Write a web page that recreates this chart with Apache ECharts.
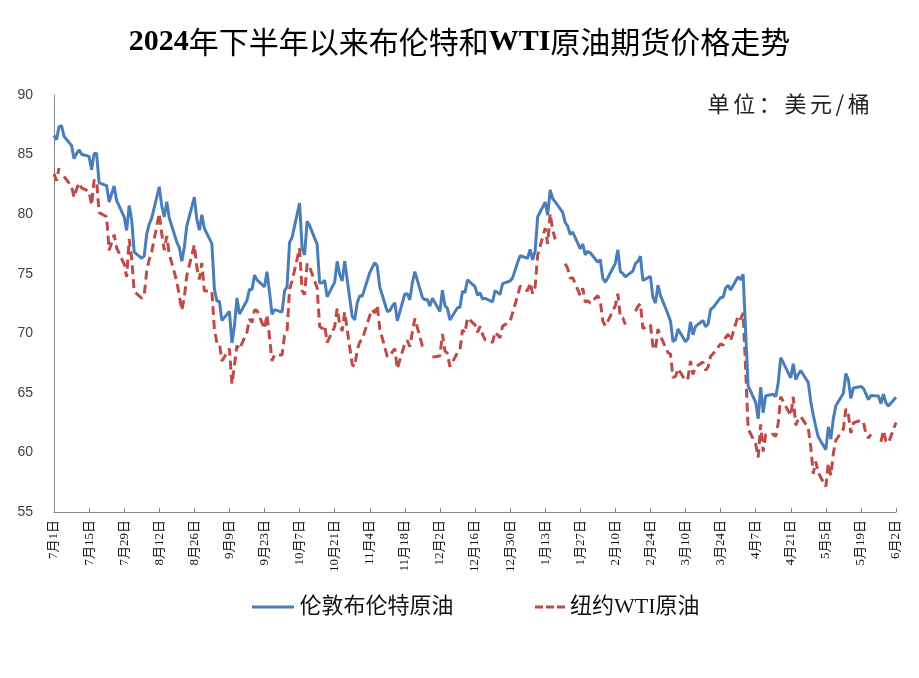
<!DOCTYPE html>
<html>
<head>
<meta charset="utf-8">
<script src="https://cdn.jsdelivr.net/npm/echarts@6/dist/echarts.min.js"></script>
<style>
html,body{margin:0;padding:0;background:#fff;}
#chart{width:919px;height:678px;}
</style>
</head>
<body>
<div id="chart"></div>
<script>
// ---- data ----
const dates = [
'2024-07-01','2024-07-02','2024-07-03','2024-07-04','2024-07-05','2024-07-08','2024-07-09','2024-07-10','2024-07-11','2024-07-12',
'2024-07-15','2024-07-16','2024-07-17','2024-07-18','2024-07-19','2024-07-22','2024-07-23','2024-07-24','2024-07-25','2024-07-26',
'2024-07-29','2024-07-30','2024-07-31','2024-08-01','2024-08-02','2024-08-05','2024-08-06','2024-08-07','2024-08-08','2024-08-09',
'2024-08-12','2024-08-13','2024-08-14','2024-08-15','2024-08-16','2024-08-19','2024-08-20','2024-08-21','2024-08-22','2024-08-23',
'2024-08-26','2024-08-27','2024-08-28','2024-08-29','2024-08-30','2024-09-02','2024-09-03','2024-09-04','2024-09-05','2024-09-06',
'2024-09-09','2024-09-10','2024-09-11','2024-09-12','2024-09-13','2024-09-16','2024-09-17','2024-09-18','2024-09-19','2024-09-20',
'2024-09-23','2024-09-24','2024-09-25','2024-09-26','2024-09-27','2024-09-30','2024-10-01','2024-10-02','2024-10-03','2024-10-04',
'2024-10-07','2024-10-08','2024-10-09','2024-10-10','2024-10-11','2024-10-14','2024-10-15','2024-10-16','2024-10-17','2024-10-18',
'2024-10-21','2024-10-22','2024-10-23','2024-10-24','2024-10-25','2024-10-28','2024-10-29','2024-10-30','2024-10-31','2024-11-01',
'2024-11-04','2024-11-05','2024-11-06','2024-11-07','2024-11-08','2024-11-11','2024-11-12','2024-11-13','2024-11-14','2024-11-15',
'2024-11-18','2024-11-19','2024-11-20','2024-11-21','2024-11-22','2024-11-25','2024-11-26','2024-11-27','2024-11-28','2024-11-29',
'2024-12-02','2024-12-03','2024-12-04','2024-12-05','2024-12-06','2024-12-09','2024-12-10','2024-12-11','2024-12-12','2024-12-13',
'2024-12-16','2024-12-17','2024-12-18','2024-12-19','2024-12-20','2024-12-23','2024-12-24','2024-12-26','2024-12-27','2024-12-30',
'2024-12-31','2025-01-02','2025-01-03','2025-01-06','2025-01-07','2025-01-08','2025-01-09','2025-01-10','2025-01-13','2025-01-14',
'2025-01-15','2025-01-16','2025-01-17','2025-01-20','2025-01-21','2025-01-22','2025-01-23','2025-01-24','2025-01-27','2025-01-28',
'2025-01-29','2025-01-30','2025-01-31','2025-02-03','2025-02-04','2025-02-05','2025-02-06','2025-02-07','2025-02-10','2025-02-11',
'2025-02-12','2025-02-13','2025-02-14','2025-02-17','2025-02-18','2025-02-19','2025-02-20','2025-02-21','2025-02-24','2025-02-25',
'2025-02-26','2025-02-27','2025-02-28','2025-03-03','2025-03-04','2025-03-05','2025-03-06','2025-03-07','2025-03-10','2025-03-11',
'2025-03-12','2025-03-13','2025-03-14','2025-03-17','2025-03-18','2025-03-19','2025-03-20','2025-03-21','2025-03-24','2025-03-25',
'2025-03-26','2025-03-27','2025-03-28','2025-03-31','2025-04-01','2025-04-02','2025-04-03','2025-04-04','2025-04-07','2025-04-08',
'2025-04-09','2025-04-10','2025-04-11','2025-04-14','2025-04-15','2025-04-16','2025-04-17','2025-04-21','2025-04-22','2025-04-23',
'2025-04-24','2025-04-25','2025-04-28','2025-04-29','2025-04-30','2025-05-01','2025-05-02','2025-05-05','2025-05-06','2025-05-07',
'2025-05-08','2025-05-09','2025-05-12','2025-05-13','2025-05-14','2025-05-15','2025-05-16','2025-05-19','2025-05-20','2025-05-21',
'2025-05-22','2025-05-23','2025-05-26','2025-05-27','2025-05-28','2025-05-29','2025-05-30','2025-06-02'
];
const brent = [
86.60,86.24,87.34,87.43,86.54,85.75,84.66,85.08,85.40,85.03,
84.85,83.73,85.08,85.11,82.63,82.40,81.01,81.71,82.37,81.13,
79.78,78.63,80.72,79.52,76.81,76.30,76.48,78.33,79.16,79.66,
82.30,80.69,79.76,81.04,79.68,77.66,77.20,76.05,77.22,79.02,
81.43,79.55,78.65,79.94,78.80,77.52,73.75,72.70,72.69,71.06,
71.84,69.19,70.61,72.97,71.61,72.75,73.70,73.65,74.88,74.49,
73.90,75.17,73.46,71.60,71.98,71.77,73.56,73.90,77.62,78.05,
80.93,77.18,76.58,79.40,79.04,77.46,74.25,74.22,74.45,73.06,
74.29,76.04,74.96,74.38,76.05,71.42,71.12,72.55,73.16,73.10,
75.08,75.53,75.92,75.63,73.87,71.83,71.89,72.28,72.56,71.04,
73.30,73.31,72.81,74.23,75.17,73.01,72.81,72.83,72.28,72.94,
71.83,73.62,72.31,72.09,71.12,72.14,72.19,73.52,73.41,74.49,
73.91,73.19,73.39,72.88,72.94,72.63,73.58,73.26,74.17,74.39,
74.64,75.93,76.51,76.30,77.05,76.16,76.92,79.76,81.01,79.92,
82.03,81.29,81.04,80.15,79.29,79.00,78.29,78.50,77.08,77.49,
76.58,76.87,76.76,75.96,76.20,74.61,74.29,74.66,75.87,77.00,
75.18,75.02,74.74,75.22,75.84,76.04,76.48,74.43,74.78,73.02,
72.53,74.04,73.18,71.62,71.04,69.30,69.46,70.36,69.28,69.56,
70.95,69.88,70.58,71.07,70.56,70.78,72.00,72.16,73.00,73.02,
73.79,74.03,73.63,74.74,74.49,74.95,70.14,65.58,64.21,62.82,
65.48,63.33,64.76,64.88,64.67,65.85,67.96,66.26,67.44,66.12,
66.55,66.87,65.86,64.25,63.12,62.13,61.29,60.23,62.15,61.12,
62.84,63.91,64.96,66.63,66.09,64.53,65.41,65.54,65.38,64.91,
64.44,64.78,64.74,64.09,64.90,64.15,63.90,64.63
];
const wti = [
83.38,82.81,83.88,null,83.16,82.33,81.41,82.10,82.62,82.21,
81.91,80.76,82.85,82.82,80.13,79.78,76.96,77.59,78.28,77.16,
75.81,74.73,77.91,76.31,73.52,72.94,73.20,75.23,76.19,76.84,
80.06,78.35,76.98,78.16,76.65,74.37,73.17,71.93,73.01,74.83,
77.42,75.53,74.52,75.91,73.55,73.55,70.34,69.20,69.15,67.67,
68.71,65.75,67.31,68.97,68.65,70.09,71.19,70.91,71.95,71.92,
70.37,71.56,69.69,67.67,68.18,68.17,69.83,70.10,73.71,74.38,
77.14,73.57,73.24,75.85,75.56,73.83,70.58,70.39,70.67,69.22,
70.56,72.09,70.77,70.19,71.78,67.38,67.21,68.61,69.26,69.49,
71.47,71.99,71.69,72.36,70.38,68.04,68.12,68.43,68.70,67.02,
69.16,69.39,68.87,70.10,71.24,68.94,68.77,68.72,null,68.00,
68.10,69.94,68.54,68.30,67.20,68.37,68.59,70.29,70.02,71.29,
70.71,70.08,70.58,69.91,69.46,69.24,70.10,69.62,70.60,70.99,
71.72,73.13,73.96,73.56,74.25,73.32,73.92,76.57,78.82,77.50,
80.04,78.68,77.88,null,75.83,75.44,74.62,74.66,73.17,73.77,
72.62,72.73,72.53,73.16,72.70,71.03,70.61,71.00,72.32,73.32,
71.37,71.29,70.74,null,71.85,72.25,72.48,70.40,70.70,68.93,
68.62,70.35,69.76,68.37,68.26,66.31,66.36,67.04,66.03,66.25,
67.68,66.55,67.18,67.58,66.90,67.16,68.07,68.28,69.11,69.00,
69.65,69.92,69.36,71.48,71.20,71.71,66.95,61.99,60.70,59.58,
62.35,60.07,61.50,61.53,61.33,62.47,64.68,63.08,64.67,62.27,
62.79,63.02,62.05,60.42,58.21,59.24,58.29,57.13,59.09,58.07,
59.91,61.02,61.95,63.67,63.15,61.62,62.49,62.69,62.56,61.57,
61.20,61.53,null,60.89,61.84,60.94,60.79,62.52
];
const xTickLabels = ['7月1日','7月15日','7月29日','8月12日','8月26日','9月9日','9月23日','10月7日','10月21日','11月4日',
'11月18日','12月2日','12月16日','12月30日','1月13日','1月27日','2月10日','2月24日','3月10日','3月24日',
'4月7日','4月21日','5月5日','5月19日','6月2日'];
const yTicks = [55, 60, 65, 70, 75, 80, 85, 90];
const seriesNames = ['伦敦布伦特原油', '纽约WTI原油'];
const unitText = '单位：美元/桶';

// ---- build ----
const startUTC = Date.UTC(2024, 6, 1);
function dayOffset(s) {
  const p = s.split('-').map(Number);
  return (Date.UTC(p[0], p[1] - 1, p[2]) - startUTC) / 86400000;
}
const xs = dates.map(dayOffset);
const brentData = xs.map((x, i) => [x, brent[i] == null ? '-' : brent[i]]);
const wtiData = xs.map((x, i) => [x, wti[i] == null ? '-' : wti[i]]);

const BLUE = '#4A7EBB';
const RED = '#BE4B48';
const SERIF_CJK = "'Liberation Serif','Times New Roman','Noto Sans CJK SC',serif";
const unitRich = unitText.split('').map(c => '{c|' + c + '}').join('');

const legendText = {fontFamily: SERIF_CJK, fontSize: 22, color: '#111'};

const chart = echarts.init(document.getElementById('chart'), null, {renderer: 'canvas'});
chart.setOption({
  backgroundColor: '#ffffff',
  animation: false,
  title: [{
    text: '{a|2024}{b|年下半年以来布伦特和}{a|WTI}{b|原油期货价格走势}',
    left: 'center',
    top: 22,
    textStyle: {
      rich: {
        a: {fontFamily: "'Liberation Serif','Times New Roman',serif", fontWeight: 'bold', fontSize: 30, color: '#000'},
        b: {fontFamily: "'Noto Sans CJK SC'", fontWeight: 'normal', fontSize: 30, color: '#000'}
      }
    }
  }, {
    text: unitRich,
    right: 46,
    top: 88,
    textStyle: {
      rich: {
        c: {fontFamily: "'Noto Sans CJK SC'", fontWeight: 'normal', fontSize: 22, color: '#222', padding: [0, 1.8, 0, 1.8]}
      }
    }
  }],
  legend: [{
    data: [{name: seriesNames[0], icon: 'path://M0,0h42v3h-42z'}],
    left: 247,
    top: 591,
    itemWidth: 43,
    itemHeight: 3,
    textStyle: legendText
  }, {
    data: [{name: seriesNames[1], icon: 'path://M0,0h8v3h-8z M11,0h8v3h-8z M22,0h8v3h-8z'}],
    left: 530,
    top: 591,
    itemWidth: 30,
    itemHeight: 3,
    textStyle: legendText
  }],
  grid: {left: 54, right: 23, top: 95, bottom: 166, containLabel: false},
  xAxis: {
    type: 'value',
    min: 0,
    max: (xTickLabels.length - 1) * 14,
    interval: 14,
    axisLine: {show: true, lineStyle: {color: '#868686', width: 1}},
    axisTick: {show: true, inside: true, length: 4, lineStyle: {color: '#868686'}},
    splitLine: {show: false},
    axisLabel: {
      rotate: 90,
      margin: 8,
      fontFamily: SERIF_CJK,
      fontSize: 13,
      color: '#111',
      formatter: function (v) { return xTickLabels[Math.round(v / 14)] || ''; }
    }
  },
  yAxis: {
    type: 'value',
    min: yTicks[0],
    max: yTicks[yTicks.length - 1],
    interval: 5,
    axisLine: {show: true, lineStyle: {color: '#868686', width: 1}},
    axisTick: {show: false},
    splitLine: {show: false},
    axisLabel: {fontFamily: "'Liberation Sans',Arial,sans-serif", fontSize: 14, color: '#404040', margin: 21}
  },
  series: [{
    name: seriesNames[0],
    type: 'line',
    data: brentData,
    symbol: 'none',
    showSymbol: false,
    connectNulls: false,
    lineStyle: {color: BLUE, width: 3},
    itemStyle: {color: BLUE},
    z: 3
  }, {
    name: seriesNames[1],
    type: 'line',
    data: wtiData,
    symbol: 'none',
    showSymbol: false,
    connectNulls: false,
    lineStyle: {color: RED, width: 3, type: [9, 5]},
    itemStyle: {color: RED},
    z: 2
  }]
});
</script>
</body>
</html>
